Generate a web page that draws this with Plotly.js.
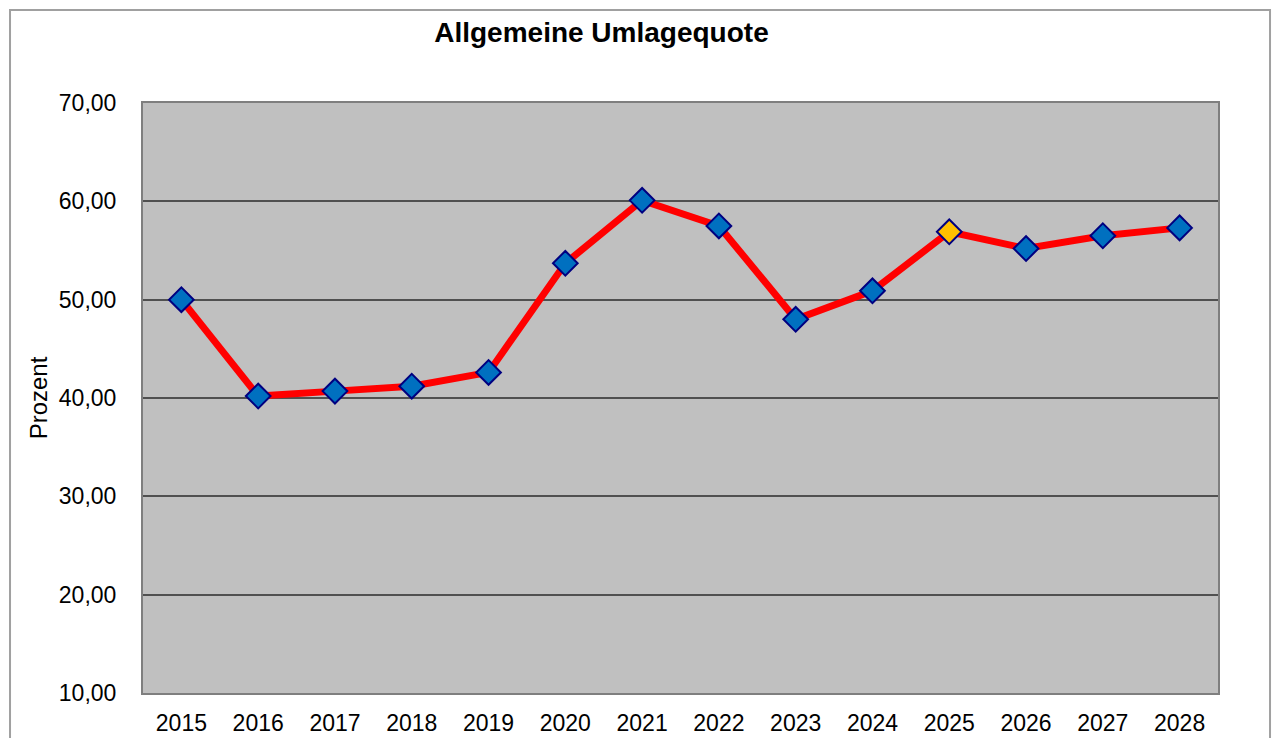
<!DOCTYPE html>
<html>
<head>
<meta charset="utf-8">
<script src="https://cdn.plot.ly/plotly-3.0.1.min.js"></script>
<style>
  html, body { margin: 0; padding: 0; background: #fff; }
  #chart { width: 1277px; height: 738px; }
</style>
</head>
<body>
<div id="chart"></div>
<script>
// Jahre und Umlagequote in Prozent
const jahre = ["2015", "2016", "2017", "2018", "2019", "2020", "2021",
               "2022", "2023", "2024", "2025", "2026", "2027", "2028"];
const quote = [50.0, 40.2, 40.7, 41.2, 42.6, 53.7, 60.1,
               57.5, 48.0, 50.9, 56.9, 55.2, 56.5, 57.3];
const hervorgehoben = "2025";

const markerFarben = jahre.map(j => j === hervorgehoben ? "#ffc000" : "#0070c0");

const trace = {
    x: jahre,
    y: quote,
    type: "scatter",
    mode: "lines+markers",
    line: { color: "#ff0000", width: 7 },
    marker: {
        symbol: "diamond",
        size: 19,
        color: markerFarben,
        line: { color: "#000080", width: 2 }
    },
    hoverinfo: "x+y"
};

const layout = {
    width: 1277,
    height: 738,
    margin: { l: 143, r: 59, t: 103, b: 45 },
    paper_bgcolor: "#ffffff",
    plot_bgcolor: "#c0c0c0",
    separators: ",.",
    font: { family: "Liberation Sans, Arial, sans-serif", color: "#000" },
    showlegend: false,
    title: {
        text: "<b>Allgemeine Umlagequote</b>",
        font: { size: 28, color: "#000" },
        xref: "container", x: 0.471, xanchor: "center",
        yref: "container", y: 0.956, yanchor: "middle"
    },
    xaxis: {
        type: "category",
        range: [-0.5, 13.5],
        showgrid: false,
        showline: true, mirror: true,
        linecolor: "#7f7f7f", linewidth: 2,
        ticks: "", ticklabelstandoff: 8,
        tickfont: { size: 23 },
        zeroline: false
    },
    yaxis: {
        range: [10, 70],
        dtick: 10,
        tickformat: ".2f",
        showgrid: true, gridcolor: "#505050", gridwidth: 2,
        showline: true, mirror: true,
        linecolor: "#7f7f7f", linewidth: 2,
        ticks: "", ticklabelstandoff: 20,
        tickfont: { size: 23 },
        zeroline: false,
        title: { text: "Prozent", font: { size: 24 }, standoff: 4 }
    },
    shapes: [{
        type: "rect", xref: "paper", yref: "paper",
        x0: -0.1237, x1: 1.0484, y0: -0.1, y1: 1.1576,
        line: { color: "#a0a0a0", width: 2 },
        fillcolor: "rgba(0,0,0,0)", layer: "below"
    }]
};

Plotly.newPlot("chart", [trace], layout, { displayModeBar: false, staticPlot: true });
</script>
</body>
</html>
